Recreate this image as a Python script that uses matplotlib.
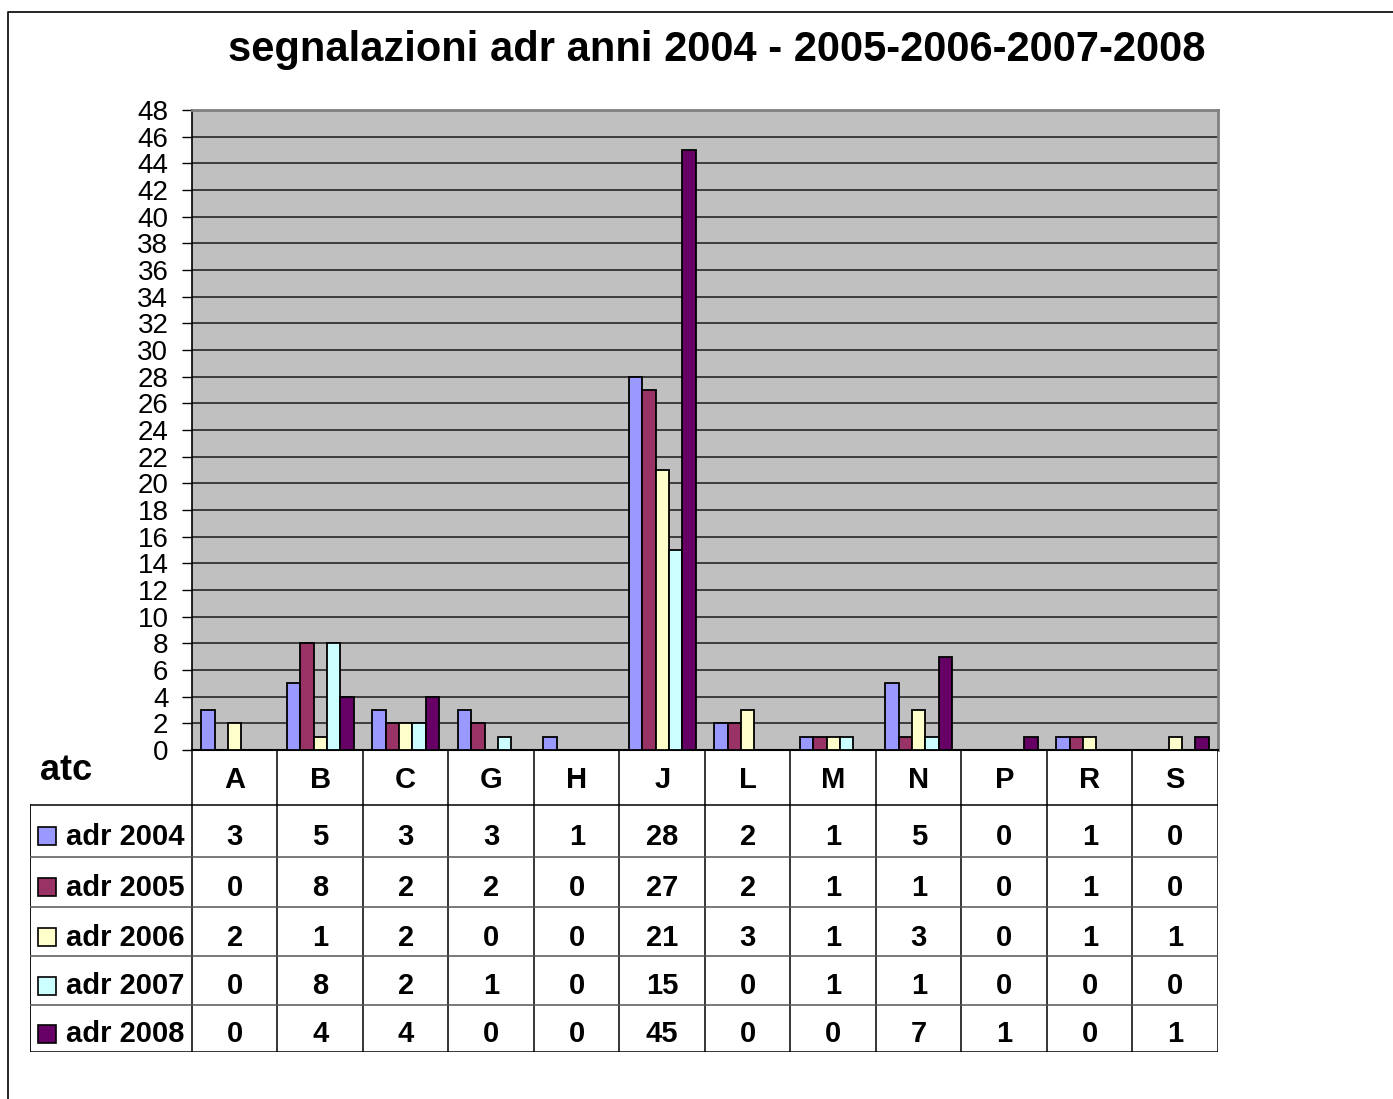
import numpy as np
import matplotlib.pyplot as plt
from matplotlib.patches import Rectangle
from matplotlib.lines import Line2D

plt.rcParams['font.family'] = ['Liberation Sans', 'DejaVu Sans']

# Data
categories = ['A', 'B', 'C', 'G', 'H', 'J', 'L', 'M', 'N', 'P', 'R', 'S']
series_names = ['adr 2004', 'adr 2005', 'adr 2006', 'adr 2007', 'adr 2008']
adr_2004 = [3, 5, 3, 3, 1, 28, 2, 1, 5, 0, 1, 0]
adr_2005 = [0, 8, 2, 2, 0, 27, 2, 1, 1, 0, 1, 0]
adr_2006 = [2, 1, 2, 0, 0, 21, 3, 1, 3, 0, 1, 1]
adr_2007 = [0, 8, 2, 1, 0, 15, 0, 1, 1, 0, 0, 0]
adr_2008 = [0, 4, 4, 0, 0, 45, 0, 0, 7, 1, 0, 1]
series = [adr_2004, adr_2005, adr_2006, adr_2007, adr_2008]
colors = ['#9999FF', '#993366', '#FFFFCC', '#CCFFFF', '#660066']

W, H = 1393, 1099
fig = plt.figure(figsize=(W / 100, H / 100), dpi=100)

# pixel layout of the plot area
px_left, px_right = 192, 1218
px_top, px_bottom = 110, 750
cat_w = (px_right - px_left) / len(categories)

ax = fig.add_axes([px_left / W, 1 - px_bottom / H,
                   (px_right - px_left) / W, (px_bottom - px_top) / H])
ax.set_facecolor('#C0C0C0')

x = np.arange(len(categories))
bw = 0.1556
for j, (vals, c) in enumerate(zip(series, colors)):
    ax.bar(x + (j - 2) * bw, vals, width=bw, color=c, edgecolor='black',
           linewidth=1.3, zorder=3)

ax.set_xlim(-0.5, len(categories) - 0.5)
ax.set_ylim(0, 48)
ax.set_yticks(range(0, 49, 2))
ax.yaxis.grid(True, color='#1a1a1a', linewidth=1.1, zorder=0)
ax.set_axisbelow(True)
ax.tick_params(axis='y', direction='out', length=7, width=1, pad=10,
               labelsize=20)
ax.tick_params(axis='x', bottom=False, labelbottom=False)
for s in ['top', 'right']:
    ax.spines[s].set_color('#808080')
    ax.spines[s].set_linewidth(2)
ax.spines['left'].set_linewidth(1.2)
ax.spines['bottom'].set_linewidth(1.5)

# Data table below the chart
tab_left, tab_bottom = 30, 1052
tx0 = -0.5 - (px_left - tab_left) / cat_w
tax = fig.add_axes([tab_left / W, 1 - tab_bottom / H,
                    (px_right - tab_left) / W, (tab_bottom - px_bottom) / H])
tax.set_xlim(tx0, len(categories) - 0.5)
tax.set_ylim(tab_bottom, px_bottom)
tax.axis('off')

def px2x(px):
    return tx0 + (px - tab_left) / cat_w

row_lines = [805, 857, 907, 956, 1005, 1052]
# vertical lines
for i in range(len(categories) + 1):
    tax.plot([i - 0.5, i - 0.5], [px_bottom, tab_bottom], color='black', lw=1.1)
tax.plot([tx0, tx0], [row_lines[0], tab_bottom], color='black', lw=1.3)
# horizontal lines
for k, yl in enumerate(row_lines):
    col = 'black' if k in (0, len(row_lines) - 1) else '#555555'
    tax.plot([tx0, len(categories) - 0.5], [yl, yl], color=col, lw=1.1)

# header row
for i, cat in enumerate(categories):
    tax.text(i, 780, cat, ha='center', va='center', fontsize=21, fontweight='bold')
tax.text(px2x(40), 770, 'atc', ha='left', va='center', fontsize=26, fontweight='bold')

# rows
for k, (name, vals, c) in enumerate(zip(series_names, series, colors)):
    yc = (row_lines[k] + row_lines[k + 1]) / 2 + 6
    tax.add_patch(Rectangle((px2x(38), yc - 10), 18 / cat_w, 18, facecolor=c,
                            edgecolor='black', lw=1.2))
    tax.text(px2x(66), yc, name, ha='left', va='center', fontsize=21,
             fontweight='bold')
    for i, v in enumerate(vals):
        tax.text(i, yc, str(v), ha='center', va='center', fontsize=21,
                 fontweight='bold')

# title
fig.text(717 / W, 1 - 50 / H, 'segnalazioni adr anni 2004 - 2005-2006-2007-2008',
         ha='center', va='center', fontsize=30, fontweight='bold')

# outer frame
fig.add_artist(Line2D([8 / W, 8 / W, 1.0], [0.0, 1 - 12 / H, 1 - 12 / H],
                      transform=fig.transFigure, color='black', lw=1.2))

fig.savefig('out.png', dpi=100)
